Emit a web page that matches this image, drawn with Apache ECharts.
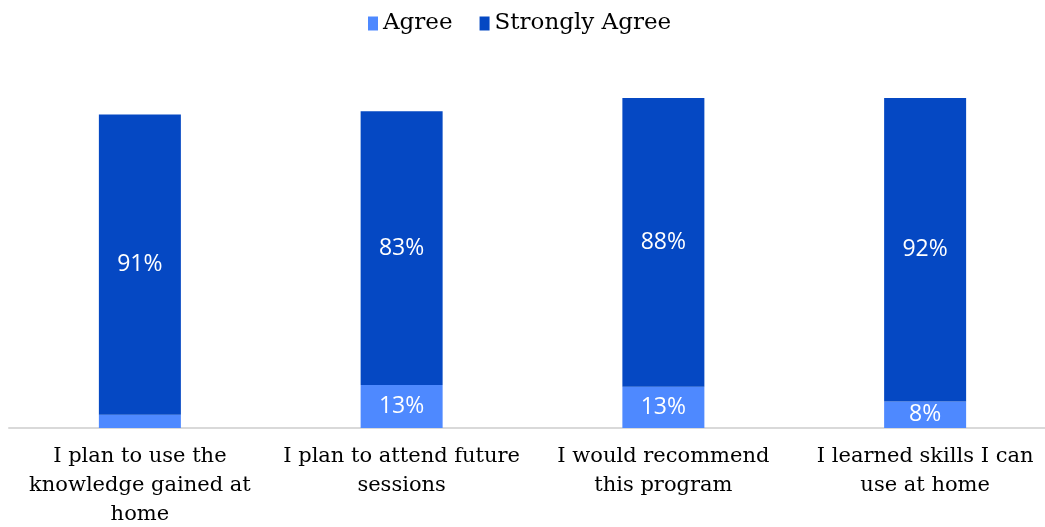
<!DOCTYPE html>
<html>
<head>
<meta charset="utf-8">
<title>Program feedback</title>
<script src="https://cdn.jsdelivr.net/npm/echarts@6/dist/echarts.min.js"></script>
<style>
    html, body { margin: 0; padding: 0; background: #fff; }
    #chart { width: 1045px; height: 527px; }
</style>
</head>
<body>
<div id="chart"></div>
<script>
    // survey statements and answer shares (%)
    var categories = [
        'I plan to use the\nknowledge gained at\nhome',
        'I plan to attend future\nsessions',
        'I would recommend\nthis program',
        'I learned skills I can\nuse at home'
    ];
    var agree = [4, 13, 12.5, 8];
    var stronglyAgree = [91, 83, 87.5, 92];

    var serifFont = 'DejaVu Serif';
    var labelFont = 'Open Sans';

    var chart = echarts.init(document.getElementById('chart'));

    var barLabel = {
        show: true,
        position: 'inside',
        color: '#fff',
        fontFamily: labelFont,
        fontSize: 23,
        formatter: function (p) {
            // too thin to hold a label
            if (p.value < 5) return '';
            return Math.round(p.value) + '%';
        }
    };

    chart.setOption({
        animation: false,
        legend: {
            top: 7,
            left: 363,
            itemWidth: 10,
            itemHeight: 14,
            itemGap: 27,
            icon: 'rect',
            textStyle: {
                fontFamily: serifFont,
                fontSize: 23,
                color: '#000'
            },
            data: ['Agree', 'Strongly Agree']
        },
        grid: {
            left: 9,
            top: 98,
            width: 1047,
            height: 330,
            outerBoundsMode: 'none',
            containLabel: false
        },
        xAxis: {
            type: 'category',
            data: categories,
            axisLine: { lineStyle: { color: '#d9d9d9', width: 2 } },
            axisTick: { show: false },
            axisLabel: {
                interval: 0,
                margin: 14,
                color: '#000',
                fontFamily: serifFont,
                fontSize: 21,
                lineHeight: 29
            }
        },
        yAxis: {
            type: 'value',
            min: 0,
            max: 100,
            show: false,
            splitLine: { show: false }
        },
        series: [
            {
                name: 'Agree',
                type: 'bar',
                stack: 'total',
                barWidth: 82,
                itemStyle: { color: '#4e89ff' },
                label: barLabel,
                data: agree
            },
            {
                name: 'Strongly Agree',
                type: 'bar',
                stack: 'total',
                barWidth: 82,
                itemStyle: { color: '#0548c3' },
                label: barLabel,
                data: stronglyAgree
            }
        ]
    });
</script>
</body>
</html>
